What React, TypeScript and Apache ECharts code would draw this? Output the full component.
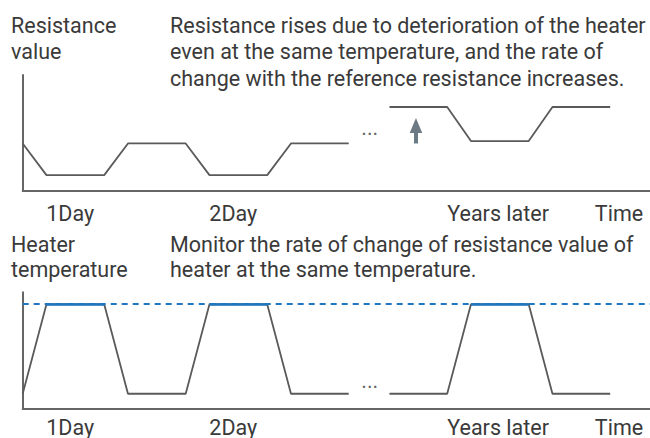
import React, { useEffect, useRef } from "react";
import * as echarts from "echarts";

// Schematic time axis in hours (the "years later" part is compressed)
const X_MAX = 92.36;

// Resistance value (arbitrary units) — day 1 and day 2
const resistanceDays: [number, number][] = [
  [0, 30], [3.5, 10], [12, 10], [15.5, 30], [24, 30],
  [27.5, 10], [36, 10], [39.5, 30], [48, 30],
];
// Resistance value years later (higher due to deterioration)
const resistanceYears: [number, number][] = [
  [54, 53], [62.5, 53], [66, 31.5], [74.5, 31.5], [78, 53], [86.5, 53],
];
const RES_MAX = 73.2;

// Heater temperature — day 1 and day 2
const heaterDays: [number, number][] = [
  [0, 25], [3.5, 175], [12, 175], [15.5, 25], [24, 25],
  [27.5, 175], [36, 175], [39.5, 25], [48, 25],
];
// Heater temperature years later
const heaterYears: [number, number][] = [
  [54, 25], [62.5, 25], [66, 175], [74.5, 175], [78, 25], [86.5, 25],
];
const TEMP_MAX = 195;
const TEMP_SET = 175;
// Plateaus at the set temperature (highlighted)
const heaterPlateaus: [number, number][] = [
  [3.5, 12], [27.5, 36], [66, 74.5],
];

// Arrow showing the resistance rise
const arrowFrom: [number, number] = [57.9, 30];
const arrowTo: [number, number] = [57.9, 41.3];

// Ellipsis markers in the gap
const topEllipsis: [number, number] = [51.1, 40.3];
const bottomEllipsis: [number, number] = [51.1, 47.2];

// Axis labels
const xLabelValues = [7, 31, 70, 87.8];
const xLabelTexts = ["1Day", "2Day", "Years later", "Time"];

const topTitle = "Resistance\nvalue";
const topNote =
  "Resistance rises due to deterioration of the heater\neven at the same temperature, and the rate of\nchange with the reference resistance increases.";
const bottomTitle = "Heater\ntemperature";
const bottomNote =
  "Monitor the rate of change of resistance value of\nheater at the same temperature.";

const FONT = "Roboto";
const FS = 21.5;
const TEXT = "#3a3a3a";
const LINE = "#5a5a5a";
const AXIS = "#666666";
const BLUE = "#1f77c0";
const ARROW = "#6b7a84";

function labelFor(v: number): string {
  let best = 0;
  let d = Infinity;
  xLabelValues.forEach((x, i) => {
    const dd = Math.abs(x - v);
    if (dd < d) { d = dd; best = i; }
  });
  return xLabelTexts[best];
}

function xAxisFor(gridIndex: number, margin: number) {
  return {
    type: "value",
    gridIndex,
    min: 0,
    max: X_MAX,
    axisLine: { show: true, lineStyle: { color: AXIS, width: 2 } },
    axisTick: { show: false },
    splitLine: { show: false },
    axisLabel: {
      show: true,
      customValues: xLabelValues,
      formatter: (v: number) => labelFor(v),
      margin,
      fontSize: FS,
      lineHeight: FS,
      fontFamily: FONT,
      color: TEXT,
      hideOverlap: false,
    },
  };
}

function yAxisFor(gridIndex: number, max: number) {
  return {
    type: "value",
    gridIndex,
    min: 0,
    max,
    axisLine: { show: true, lineStyle: { color: AXIS, width: 2 } },
    axisTick: { show: false },
    axisLabel: { show: false },
    splitLine: { show: false },
  };
}

function grayLine(xi: number, data: [number, number][], extra: any = {}) {
  return {
    type: "line",
    xAxisIndex: xi,
    yAxisIndex: xi,
    data,
    symbol: "none",
    silent: true,
    lineStyle: { color: LINE, width: 1.8 },
    ...extra,
  };
}

function dots(xi: number, pos: [number, number]) {
  return {
    type: "scatter",
    xAxisIndex: xi,
    yAxisIndex: xi,
    data: [pos],
    symbolSize: 0,
    silent: true,
    clip: false,
    label: {
      show: true,
      position: "inside",
      formatter: "...",
      fontSize: FS,
      fontFamily: FONT,
      color: TEXT,
    },
  };
}

export default function App() {
  const ref = useRef<HTMLDivElement>(null);
  useEffect(() => {
    if (!ref.current) return;
    const chart = echarts.init(ref.current, undefined, { renderer: "svg" });
    const textStyle = (text: string, lh: number) => ({
      text,
      fontSize: FS,
      fontFamily: FONT,
      fill: TEXT,
      lineHeight: lh,
      verticalAlign: "top",
      align: "left",
    });
    chart.setOption({
      animation: false,
      grid: [
        { left: 22.7, right: 0, top: 75, height: 116 },
        { left: 22.7, right: 0, top: 292.3, height: 117 },
      ],
      xAxis: [xAxisFor(0, 11.4), xAxisFor(1, 7.6)],
      yAxis: [yAxisFor(0, RES_MAX), yAxisFor(1, TEMP_MAX)],
      graphic: [
        { type: "text", x: 11, y: 11.75, style: textStyle(topTitle, 26.5) },
        { type: "text", x: 170, y: 11.75, style: textStyle(topNote, 26.5) },
        { type: "text", x: 11, y: 231.9, style: textStyle(bottomTitle, 25) },
        { type: "text", x: 170, y: 231.9, style: textStyle(bottomNote, 25) },
      ],
      series: [
        grayLine(0, resistanceDays),
        grayLine(0, resistanceYears, {
          markLine: {
            silent: true,
            z: 6,
            symbol: ["none", "triangle"],
            symbolSize: [12.5, 15],
            label: { show: false },
            emphasis: { disabled: true },
            lineStyle: { color: ARROW, width: 4, type: "solid" },
            data: [[{ coord: arrowFrom }, { coord: arrowTo }]],
          },
        }),
        dots(0, topEllipsis),
        grayLine(1, heaterDays),
        grayLine(1, heaterYears, {
          markLine: {
            silent: true,
            z: 6,
            symbol: ["none", "none"],
            label: { show: false },
            emphasis: { disabled: true },
            data: [
              ...heaterPlateaus.map(([a, b]) => [
                { coord: [a, TEMP_SET], lineStyle: { color: BLUE, width: 2.5, type: "solid" } },
                { coord: [b, TEMP_SET] },
              ]),
              { yAxis: TEMP_SET, lineStyle: { color: BLUE, width: 2, type: [6, 5] } },
            ],
          },
        }),
        dots(1, bottomEllipsis),
      ],
    });
    return () => chart.dispose();
  }, []);
  return (
    <div
      ref={ref}
      style={{ position: "absolute", left: 0, top: 0, width: 650, height: 438 }}
    />
  );
}
